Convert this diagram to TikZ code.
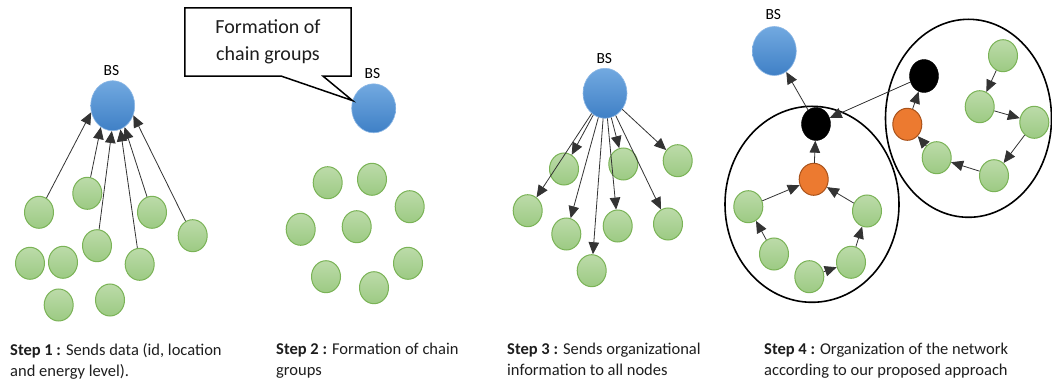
\documentclass[tikz,border=0pt]{standalone}
\usepackage{fontspec}
\setmainfont{Carlito}
\usetikzlibrary{arrows.meta,shapes.geometric}
\definecolor{bluetop}{HTML}{72A9E0}
\definecolor{bluebot}{HTML}{3F80C6}
\definecolor{blueedge}{HTML}{8DB8E6}
\definecolor{greentop}{HTML}{BCDBA9}
\definecolor{greenbot}{HTML}{9CCA83}
\definecolor{greenedge}{HTML}{7AB356}
\definecolor{orangefill}{HTML}{EC7A30}
\definecolor{orangeedge}{HTML}{A9521A}
\definecolor{linegray}{HTML}{333333}
\definecolor{textgray}{HTML}{1E1E1E}
\tikzset{
  bsnode/.style={ellipse, minimum width=44pt, minimum height=50pt, inner sep=0pt,
    top color=bluetop, bottom color=bluebot, draw=blueedge, line width=0.6pt},
  gnode/.style={ellipse, minimum width=29pt, minimum height=32pt, inner sep=0pt,
    top color=greentop, bottom color=greenbot, draw=greenedge, line width=1pt},
  onode/.style={ellipse, minimum width=29pt, minimum height=32pt, inner sep=0pt,
    fill=orangefill, draw=orangeedge, line width=1pt},
  knode/.style={ellipse, minimum width=29pt, minimum height=33pt, inner sep=0pt,
    fill=black, draw=black},
  bslabel/.style={font=\fontsize{15.5}{18}\selectfont, text=black, inner sep=0pt},
  conn/.style={draw=linegray, line width=0.8pt, -{Triangle[length=12pt,width=10.5pt]}},
  cluster/.style={ellipse, draw=black, line width=1.6pt, inner sep=0pt},
  caption/.style={font=\fontsize{16.5}{21}\selectfont, text=textgray, align=left,
    inner sep=0pt, anchor=north west},
}
\begin{document}
\begin{tikzpicture}[x=1pt, y=-1pt]
\useasboundingbox (0,0) rectangle (1052,385);
\fill[white] (0,0) rectangle (1052,385);

% ---------------- Step 1 ----------------
\node[bsnode] (bs1) at (112.7,105.7) {};
\node[bslabel] (bs1l) at (111.5,71) {BS};
\node[gnode] (a1) at (39,212.3) {};
\node[gnode] (a2) at (87.3,193.3) {};
\node[gnode] (a3) at (152,212.3) {};
\node[gnode] (a4) at (192.7,235.7) {};
\node[gnode] (a5) at (97,245.7) {};
\node[gnode] (a6) at (139.7,264.3) {};
\node[gnode] (a7) at (30,263.3) {};
\node[gnode] (a8) at (63,262.3) {};
\node[gnode] (a9) at (58.7,305) {};
\node[gnode] (a10) at (110,300) {};
\draw[conn] (a1) -- (bs1.197);
\draw[conn] (a2) -- (bs1.-119);
\draw[conn] (a5) -- (bs1.-92);
\draw[conn] (a6) -- (bs1.-72);
\draw[conn] (a3) -- (bs1.-61);
\draw[conn] (a4) -- (bs1.-25);

% ---------------- Step 2 ----------------
\node[bsnode, minimum height=49pt] (bs2) at (373.7,108.3) {};
\node[bslabel] (bs2l) at (372.5,74) {BS};
\node[inner sep=0pt, minimum width=166pt, minimum height=68pt, align=center,
  font=\fontsize{20}{27}\selectfont, text=textgray] (co) at (268,42) {Formation of\\chain groups};
\draw[black, line width=1.5pt, line join=miter]
  (co.south west) -- (co.north west) -- (co.north east) -- (co.south east)
  -- ([xshift=138.3pt]co.south west) -- (bs2.160)
  -- ([xshift=96.7pt]co.south west) -- cycle;
\node[gnode] (b1) at (327.7,182.7) {};
\node[gnode] (b2) at (372,179.3) {};
\node[gnode] (b3) at (409.7,206.7) {};
\node[gnode] (b4) at (300.7,229.3) {};
\node[gnode] (b5) at (356.7,226.7) {};
\node[gnode] (b6) at (326,276.7) {};
\node[gnode] (b7) at (374,287.7) {};
\node[gnode] (b8) at (408,263.3) {};

% ---------------- Step 3 ----------------
\node[bsnode] (bs3) at (605,93.3) {};
\node[bslabel] (bs3l) at (604.3,58.5) {BS};
\node[gnode] (c1) at (564,169) {};
\node[gnode] (c2) at (623.3,164) {};
\node[gnode] (c3) at (677.7,160.7) {};
\node[gnode] (c4) at (527.7,210.7) {};
\node[gnode] (c5) at (566.3,234) {};
\node[gnode] (c6) at (617.7,226) {};
\node[gnode] (c7) at (668,224) {};
\node[gnode] (c8) at (591.7,270.7) {};
\draw[conn] (bs3) -- (c4);
\draw[conn] (bs3) -- (c1);
\draw[conn] (bs3) -- (c5);
\draw[conn] (bs3) -- (c8);
\draw[conn] (bs3) -- (c2);
\draw[conn] (bs3) -- (c6);
\draw[conn] (bs3) -- (c7);
\draw[conn] (bs3) -- (c3);

% ---------------- Step 4 ----------------
\node[cluster, minimum width=174pt, minimum height=196pt] (clL) at (812,204.3) {};
\node[cluster, minimum width=166pt, minimum height=198pt] (clR) at (968.5,118.3) {};
\node[bsnode, minimum height=49pt] (bs4) at (774.3,51) {};
\node[bslabel] (bs4l) at (773.3,14.5) {BS};
\node[knode] (kL) at (816,124) {};
\node[knode] (kR) at (924,76) {};
\node[onode] (oL) at (813.7,179.3) {};
\node[onode] (oR) at (907.3,124.3) {};
\node[gnode] (l1) at (748.3,206.7) {};
\node[gnode] (l2) at (774,254) {};
\node[gnode] (l3) at (809.3,276.7) {};
\node[gnode] (l4) at (851,262.3) {};
\node[gnode] (l5) at (867,211) {};
\node[gnode] (r1) at (1003,55.7) {};
\node[gnode] (r2) at (979.7,106.7) {};
\node[gnode] (r3) at (1034.3,122.3) {};
\node[gnode] (r4) at (994,175.7) {};
\node[gnode] (r5) at (936.7,157.7) {};
\draw[conn] (kL) -- (bs4);
\draw[conn] (kR) -- (kL);
\draw[conn] (oL) -- (kL);
\draw[conn] (l1) -- (oL);
\draw[conn] (l5) -- (oL);
\draw[conn] (l2) -- (l1);
\draw[conn] (l3) -- (l4);
\draw[conn] (l4) -- (l5);
\draw[conn] (oR) -- (kR);
\draw[conn] (r1) -- (r2);
\draw[conn] (r2) -- (r3);
\draw[conn] (r3) -- (r4);
\draw[conn] (r4) -- (r5);
\draw[conn] (r5) -- (oR);

% ---------------- Captions ----------------
\node[caption] (t1) at (10,343) {\textbf{Step 1 :} Sends data (id, location\\and energy level).};
\node[caption] (t2) at (276,343) {\textbf{Step 2 :} Formation of chain\\groups};
\node[caption] (t3) at (507,343) {\textbf{Step 3 :} Sends organizational\\information to all nodes};
\node[caption] (t4) at (764,343) {\textbf{Step 4 :} Organization of the network\\according to our proposed approach};
\end{tikzpicture}
\end{document}
